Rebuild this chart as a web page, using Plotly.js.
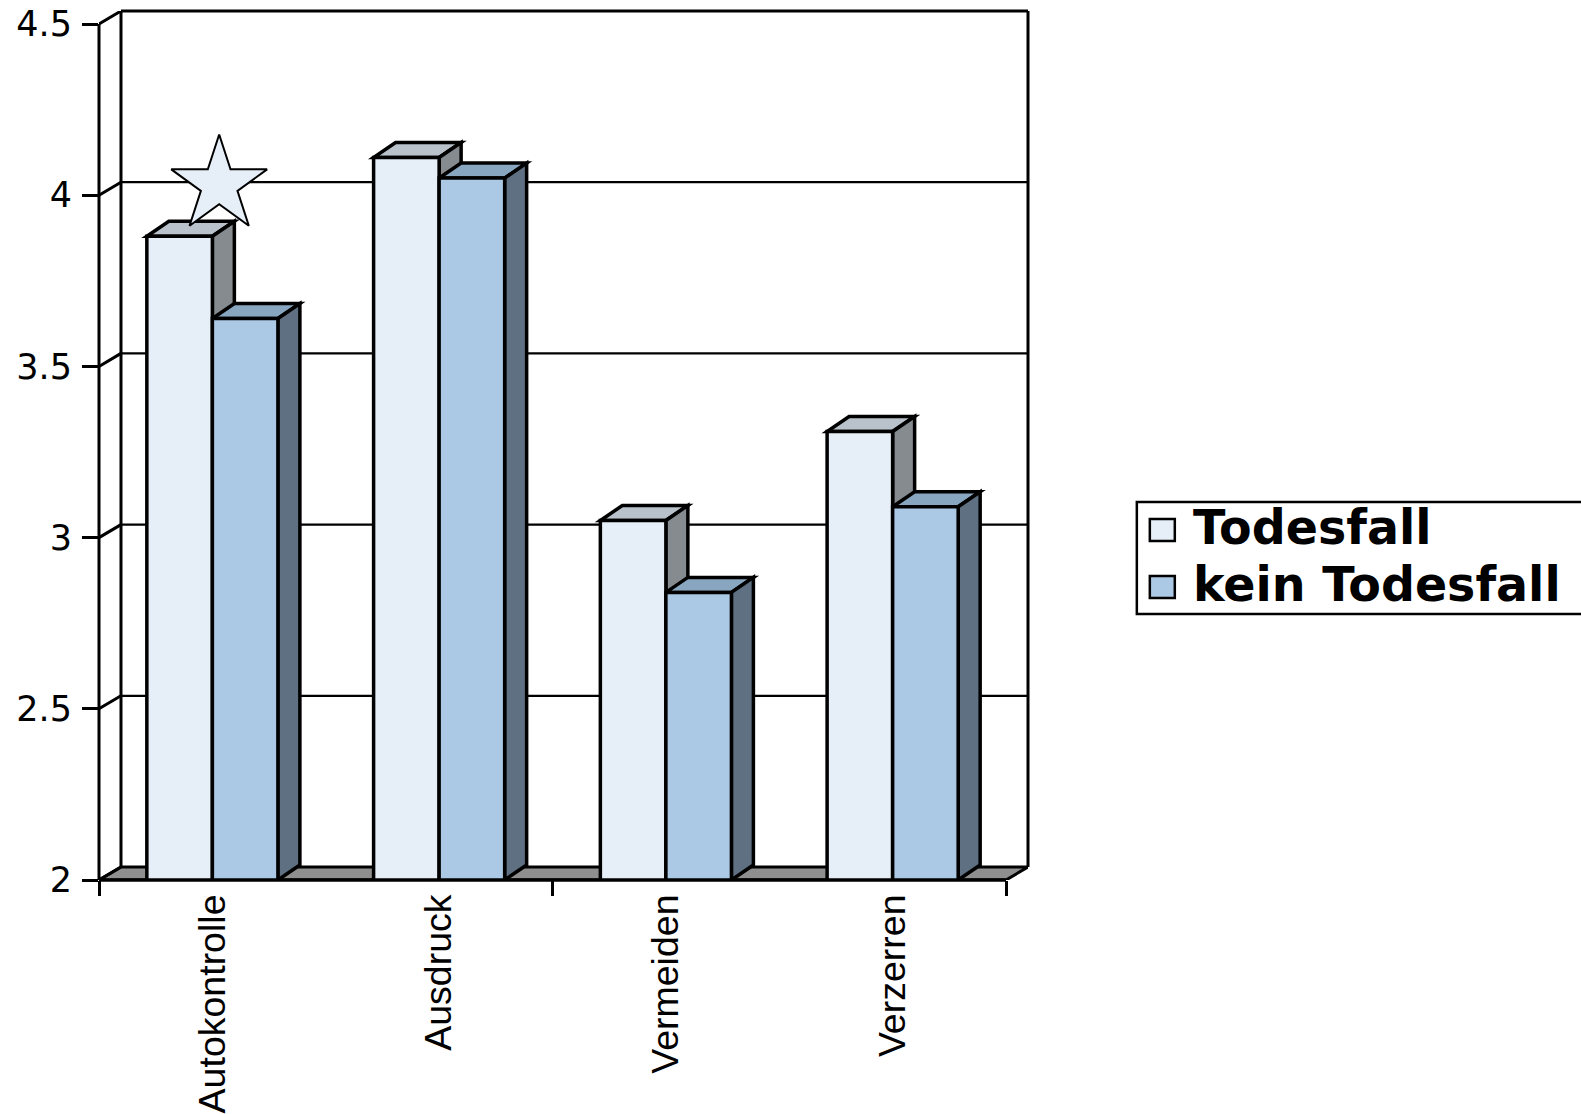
<!DOCTYPE html>
<html>
<head>
<meta charset="utf-8">
<script src="https://cdn.plot.ly/plotly-3.0.1.min.js"></script>
<style>
  html, body { margin: 0; padding: 0; background: #ffffff; }
  #chart { width: 1581px; height: 1114px; }
</style>
</head>
<body>
<div id="chart"></div>
<script>
// ---- data ----
const categories = ['Autokontrolle', 'Ausdruck', 'Vermeiden', 'Verzerren'];
const seriesNames = ['Todesfall', 'kein Todesfall'];
const todesfall = [3.88, 4.11, 3.05, 3.31];
const keinTodesfall = [3.64, 4.05, 2.84, 3.09];
const yTickVals = [2, 2.5, 3, 3.5, 4, 4.5];
const yTickText = ['2', '2.5', '3', '3.5', '4', '4.5'];
const markedCategory = 'Autokontrolle';   // category flagged with a star

// ---- geometry / style ----
const W = 1581, H = 1114;
const catPx = 226.9;        // pixels per category on the front plane
const unitPx = 342.4;       // pixels per value unit on the front plane
const depthPx = 22;         // horizontal depth offset of the 3-D look
const wallRisePx = 13;      // vertical depth offset of walls / floor
const barRisePx = 15;       // vertical depth offset of the bar tops
const yMin = 2, yMax = 4.5;
const xMin = -0.5, xMax = categories.length - 0.5;

const plotW = (xMax - xMin) * catPx + depthPx;
const plotH = (yMax - yMin) * unitPx + wallRisePx;
const M = { l: 98.5, t: 11 };
M.r = W - M.l - plotW;
M.b = H - M.t - plotH;

const dxD = depthPx / catPx;
const dyW = wallRisePx / unitPx;
const dyB = barRisePx / unitPx;

const barGap = 0.422;
const barW = (1 - barGap) / 2;

const palette = [
  { front: '#e6eef8', top: '#b9c1ca', side: '#868b90' },
  { front: '#abc9e5', top: '#88a6bf', side: '#5e7081' }
];
const series = [todesfall, keinTodesfall];
const xs = categories.map((_, i) => i);

const pxX = px => (px - M.l) / plotW;
const pxY = py => (M.t + plotH - py) / plotH;

const edgeW = 3.5;   // outline width of the bars
const wallW = 3;     // box edges
const gridW = 2.2;   // grid lines on the back wall

function poly(pts, fill, lw) {
  return {
    type: 'path', xref: 'x', yref: 'y', layer: 'between',
    path: 'M' + pts.map(p => p[0] + ',' + p[1]).join('L') + 'Z',
    fillcolor: fill, line: { color: '#000000', width: lw }
  };
}
function seg(x0, y0, x1, y1, lw, xref, yref, layer) {
  return {
    type: 'line', xref: xref || 'x', yref: yref || 'y', layer: layer || 'between',
    x0: x0, y0: y0, x1: x1, y1: y1, line: { color: '#000000', width: lw }
  };
}

const shapes = [];

// floor
shapes.push(poly([[xMin, yMin], [xMax, yMin], [xMax + dxD, yMin + dyW], [xMin + dxD, yMin + dyW]], '#8f8f8f', wallW));

// back wall grid and left wall diagonals
yTickVals.forEach(v => {
  if (v > yMin && v < yMax) shapes.push(seg(xMin + dxD, v + dyW, xMax + dxD, v + dyW, gridW));
  shapes.push(seg(xMin, v, xMin + dxD, v + dyW, wallW));
});
shapes.push(seg(xMin + dxD, yMin + dyW, xMin + dxD, yMax + dyW, wallW));

// top and side faces of the bars
xs.forEach(i => {
  series.forEach((vals, j) => {
    const v = vals[i];
    const x0 = i - barW + j * barW;
    const x1 = x0 + barW;
    shapes.push(poly([[x0, v], [x1, v], [x1 + dxD, v + dyB], [x0 + dxD, v + dyB]], palette[j].top, edgeW));
    shapes.push(poly([[x1, yMin], [x1, v], [x1 + dxD, v + dyB], [x1 + dxD, yMin + dyB]], palette[j].side, edgeW));
  });
});

// front axis lines, top edge and right edge of the box
shapes.push(seg(0, yMin, 0, yMax, wallW, 'paper', 'y', 'above'));
shapes.push(seg(xMin, 0, xMax, 0, edgeW, 'x', 'paper', 'above'));
shapes.push(seg(xMin + dxD, 1, xMax + dxD, 1, wallW, 'x', 'paper', 'above'));
shapes.push(seg(1, yMin + dyW, 1, yMax + dyW, wallW, 'paper', 'y', 'above'));

// legend box and swatches
shapes.push({
  type: 'rect', xref: 'paper', yref: 'paper', layer: 'above',
  x0: pxX(1137), x1: pxX(1610), y0: pxY(614), y1: pxY(502),
  fillcolor: '#ffffff', line: { color: '#000000', width: 2.5 }
});
const legendRows = [530, 587];
const annotations = [];
seriesNames.forEach((name, j) => {
  const cy = legendRows[j];
  shapes.push({
    type: 'rect', xref: 'paper', yref: 'paper', layer: 'above',
    x0: pxX(1150), x1: pxX(1175), y0: pxY(cy + 11), y1: pxY(cy - 11),
    fillcolor: palette[j].front, line: { color: '#000000', width: 2.5 }
  });
  annotations.push({
    xref: 'paper', yref: 'paper', x: pxX(1191), y: pxY(cy - 3),
    xanchor: 'left', yanchor: 'middle', showarrow: false, text: name,
    font: { family: 'DejaVu Sans', size: 47.5, color: '#000000', weight: 'bold' }
  });
});

// ---- traces ----
const traces = series.map((vals, j) => ({
  type: 'bar', x: xs, y: vals, name: seriesNames[j],
  marker: { color: palette[j].front, line: { color: '#000000', width: edgeW } },
  hoverinfo: 'x+y'
}));

const starIdx = categories.indexOf(markedCategory);
const starOffset = { x: 0.03, y: 0.15 };
traces.push({
  type: 'scatter', mode: 'markers',
  x: [starIdx + starOffset.x], y: [todesfall[starIdx] + starOffset.y],
  marker: { symbol: 'star', size: 72, color: palette[0].front, line: { color: '#000000', width: 2 } },
  hoverinfo: 'skip', showlegend: false
});

const layout = {
  width: W, height: H,
  margin: { l: M.l, r: M.r, t: M.t, b: M.b, pad: 0 },
  paper_bgcolor: '#ffffff', plot_bgcolor: 'rgba(0,0,0,0)',
  showlegend: false,
  barmode: 'group', bargap: barGap, bargroupgap: 0,
  xaxis: {
    range: [xMin, xMax + dxD], showgrid: false, zeroline: false, showline: false,
    tickmode: 'array', tickvals: xs, ticktext: categories, ticks: '',
    tickangle: -90, ticklabelstandoff: 6,
    tickfont: { family: 'Liberation Sans, Arial', size: 37.5, color: '#000000' },
    minor: { tickmode: 'array', tickvals: [-0.5, 1.5, 3.5], ticks: 'outside', ticklen: 15, tickwidth: 3, tickcolor: '#000000', showgrid: false }
  },
  yaxis: {
    range: [yMin, yMax + dyW], showgrid: false, zeroline: false, showline: false,
    tickmode: 'array', tickvals: yTickVals, ticktext: yTickText,
    ticks: 'outside', ticklen: 16, tickwidth: 3, tickcolor: '#000000', ticklabelstandoff: 3,
    tickfont: { family: 'DejaVu Sans', size: 35, color: '#000000' }
  },
  shapes: shapes,
  annotations: annotations
};

Plotly.newPlot('chart', traces, layout, { staticPlot: true, displayModeBar: false });
</script>
</body>
</html>
